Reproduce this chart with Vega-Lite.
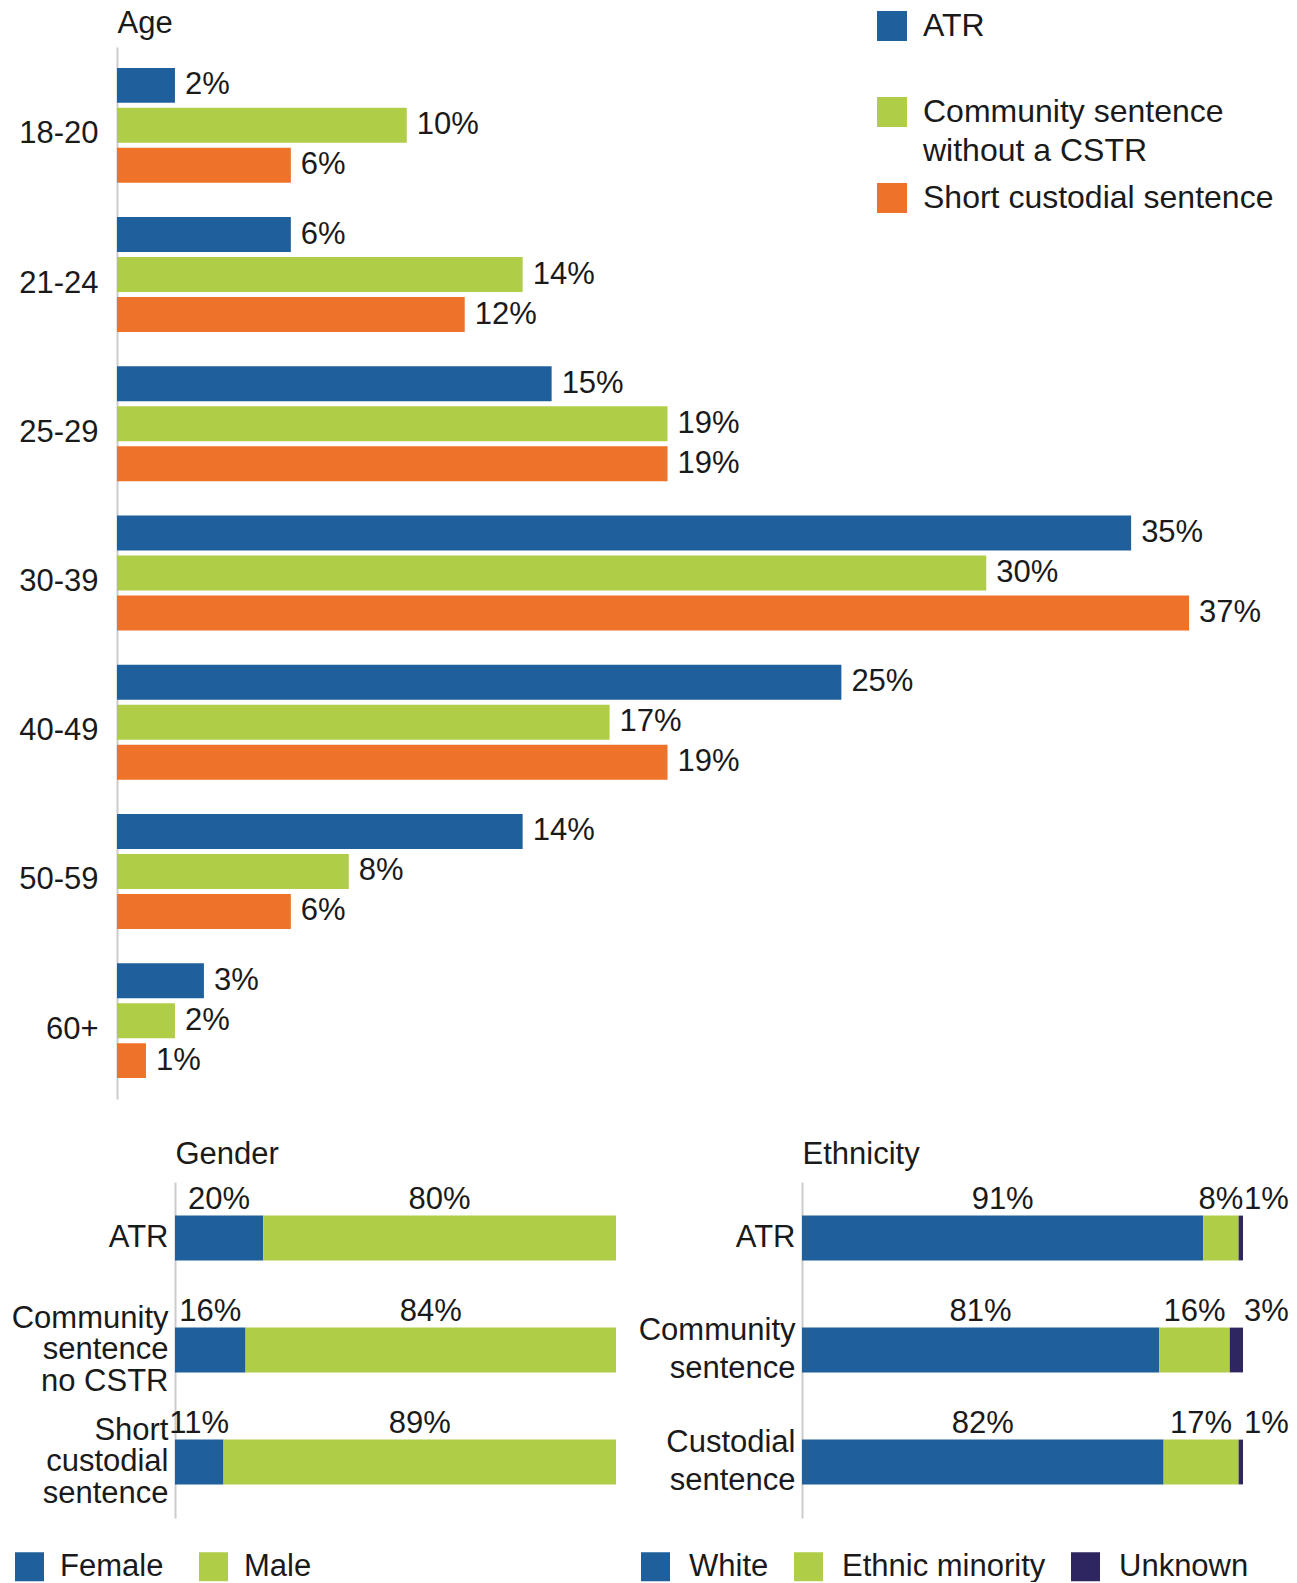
{
  "$schema": "https://vega.github.io/schema/vega-lite/v6.json",
  "background": "white",
  "padding": {"left": 11, "top": 7, "right": 0, "bottom": 0},
  "autosize": {"type": "pad"},
  "config": {
    "view": {"stroke": null},
    "font": "Liberation Sans",
    "axis": {"labelFont": "Liberation Sans", "titleFont": "Liberation Sans", "labelColor": "#1a1a1a", "titleColor": "#1a1a1a", "titleFontWeight": "normal", "domainColor": "#cccccc", "domainWidth": 2, "ticks": false, "tickSize": 0, "grid": false},
    "legend": {"labelFont": "Liberation Sans", "labelColor": "#1a1a1a", "symbolType": "square", "symbolStrokeWidth": 0, "padding": 0, "labelLimit": 800, "symbolOpacity": 1},
    "text": {"font": "Liberation Sans"}
  },
  "resolve": {"scale": {"color": "independent", "x": "independent", "y": "independent"}, "legend": {"color": "independent"}},
  "spacing": 39,
  "vconcat": [
    {
      "width": 1159,
      "height": 1052,
      "data": {"values": [
        {"age": "18-20", "series": "ATR", "value": 0.02},
        {"age": "18-20", "series": "Community sentence without a CSTR", "value": 0.10},
        {"age": "18-20", "series": "Short custodial sentence", "value": 0.06},
        {"age": "21-24", "series": "ATR", "value": 0.06},
        {"age": "21-24", "series": "Community sentence without a CSTR", "value": 0.14},
        {"age": "21-24", "series": "Short custodial sentence", "value": 0.12},
        {"age": "25-29", "series": "ATR", "value": 0.15},
        {"age": "25-29", "series": "Community sentence without a CSTR", "value": 0.19},
        {"age": "25-29", "series": "Short custodial sentence", "value": 0.19},
        {"age": "30-39", "series": "ATR", "value": 0.35},
        {"age": "30-39", "series": "Community sentence without a CSTR", "value": 0.30},
        {"age": "30-39", "series": "Short custodial sentence", "value": 0.37},
        {"age": "40-49", "series": "ATR", "value": 0.25},
        {"age": "40-49", "series": "Community sentence without a CSTR", "value": 0.17},
        {"age": "40-49", "series": "Short custodial sentence", "value": 0.19},
        {"age": "50-59", "series": "ATR", "value": 0.14},
        {"age": "50-59", "series": "Community sentence without a CSTR", "value": 0.08},
        {"age": "50-59", "series": "Short custodial sentence", "value": 0.06},
        {"age": "60+", "series": "ATR", "value": 0.03},
        {"age": "60+", "series": "Community sentence without a CSTR", "value": 0.02},
        {"age": "60+", "series": "Short custodial sentence", "value": 0.01}
      ]},
      "encoding": {
        "y": {"field": "age", "type": "nominal", "sort": ["18-20", "21-24", "25-29", "30-39", "40-49", "50-59", "60+"],
          "scale": {"paddingInner": 0.23, "paddingOuter": 0.14},
          "axis": {"title": "Age", "titleAngle": 0, "titleAlign": "left", "titleBaseline": "alphabetic", "titleX": 0, "titleY": -15, "titleFontSize": 31, "labelFontSize": 31, "labelPadding": 19, "labelOffset": 9, "labelAlign": "right", "labelBaseline": "middle"}},
        "yOffset": {"field": "series", "type": "nominal", "sort": ["ATR", "Community sentence without a CSTR", "Short custodial sentence"], "scale": {"paddingInner": 0.125, "paddingOuter": 0}},
        "x": {"field": "value", "type": "quantitative", "stack": null, "scale": {"domain": [0, 0.4], "nice": false}, "axis": null}
      },
      "layer": [
        {
          "mark": {"type": "bar"},
          "encoding": {
            "color": {"field": "series", "type": "nominal",
              "scale": {"domain": ["ATR", "Community sentence without a CSTR", "Short custodial sentence"], "range": ["#1F5F9B", "#B0CD47", "#EE722A"]},
              "legend": {"title": null, "orient": "none", "legendX": 759, "legendY": -37, "direction": "vertical", "symbolSize": 900, "labelFontSize": 32, "labelOffset": 15, "rowPadding": 15,
                "encode": {"labels": {"update": {"lineHeight": {"value": 39}}}},
                "labelExpr": "datum.label == 'Community sentence without a CSTR' ? ['Community sentence', 'without a CSTR'] : [datum.label, '']"}}
          }
        },
        {
          "mark": {"type": "text", "align": "left", "baseline": "middle", "dx": 10, "fontSize": 31, "color": "#1a1a1a"},
          "encoding": {"text": {"field": "value", "type": "quantitative", "format": ".0%"}}
        }
      ]
    },
    {
      "hconcat": [
        {
          "width": 499,
          "height": 336,
          "data": {"values": [
            {"group": "ATR", "sex": "Female", "value": 0.20},
            {"group": "ATR", "sex": "Male", "value": 0.80},
            {"group": "Community sentence no CSTR", "sex": "Female", "value": 0.16},
            {"group": "Community sentence no CSTR", "sex": "Male", "value": 0.84},
            {"group": "Short custodial sentence", "sex": "Female", "value": 0.11},
            {"group": "Short custodial sentence", "sex": "Male", "value": 0.89}
          ]},
          "transform": [{"stack": "value", "groupby": ["group"], "sort": [{"field": "value", "order": "ascending"}], "as": ["x0", "x1"]}],
          "encoding": {
            "y": {"field": "group", "type": "nominal", "sort": ["ATR", "Community sentence no CSTR", "Short custodial sentence"],
              "scale": {"paddingInner": 0.6, "paddingOuter": 0.3},
              "axis": {"title": "Gender", "offset": -58, "titleAngle": 0, "titleAlign": "left", "titleBaseline": "alphabetic", "titleX": 0, "titleY": -19, "titleFontSize": 31, "labelFontSize": 31, "labelPadding": 7, "labelLineHeight": 31.5,
                "labelOffset": {"condition": {"test": "datum.value == 'ATR'", "value": 0}, "value": -31.5},
                "labelAlign": "right", "labelBaseline": "middle",
                "labelExpr": "datum.value == 'Community sentence no CSTR' ? ['Community', 'sentence', 'no CSTR'] : datum.value == 'Short custodial sentence' ? ['Short', 'custodial', 'sentence'] : datum.value"}}
          },
          "layer": [
            {
              "mark": {"type": "bar"},
              "encoding": {
                "x": {"field": "x0", "type": "quantitative", "scale": {"domain": [-0.1315, 1], "nice": false}, "axis": null},
                "x2": {"field": "x1"},
                "color": {"field": "sex", "type": "nominal",
                  "scale": {"domain": ["Female", "Male"], "range": ["#1F5F9B", "#B0CD47"]},
                  "legend": {"title": null, "orient": "none", "legendX": -103, "legendY": 369, "direction": "horizontal", "symbolSize": 841, "labelFontSize": 31, "labelOffset": 15, "columnPadding": 34}}
              }
            },
            {
              "transform": [{"fold": ["x0", "x1"], "as": ["edge", "pos"]}],
              "mark": {"type": "text", "align": "center", "baseline": "alphabetic", "dy": -29, "fontSize": 31, "color": "#1a1a1a"},
              "encoding": {
                "x": {"aggregate": "mean", "field": "pos", "type": "quantitative", "scale": {"domain": [-0.1315, 1], "nice": false}, "axis": null},
                "detail": {"field": "sex"},
                "text": {"field": "value", "type": "quantitative", "format": ".0%"}
              }
            }
          ]
        },
        {
          "width": 441,
          "height": 336,
          "data": {"values": [
            {"group": "ATR", "ethnicity": "White", "value": 0.91},
            {"group": "ATR", "ethnicity": "Ethnic minority", "value": 0.08},
            {"group": "ATR", "ethnicity": "Unknown", "value": 0.01},
            {"group": "Community sentence", "ethnicity": "White", "value": 0.81},
            {"group": "Community sentence", "ethnicity": "Ethnic minority", "value": 0.16},
            {"group": "Community sentence", "ethnicity": "Unknown", "value": 0.03},
            {"group": "Custodial sentence", "ethnicity": "White", "value": 0.82},
            {"group": "Custodial sentence", "ethnicity": "Ethnic minority", "value": 0.17},
            {"group": "Custodial sentence", "ethnicity": "Unknown", "value": 0.01}
          ]},
          "transform": [{"stack": "value", "groupby": ["group"], "sort": [{"field": "value", "order": "descending"}], "as": ["x0", "x1"]}],
          "encoding": {
            "y": {"field": "group", "type": "nominal", "sort": ["ATR", "Community sentence", "Custodial sentence"],
              "scale": {"paddingInner": 0.6, "paddingOuter": 0.3},
              "axis": {"title": "Ethnicity", "titleAngle": 0, "titleAlign": "left", "titleBaseline": "alphabetic", "titleX": 0, "titleY": -19, "titleFontSize": 31, "labelFontSize": 31, "labelPadding": 7, "labelLineHeight": 38,
                "labelOffset": {"condition": {"test": "datum.value == 'ATR'", "value": 0}, "value": -19},
                "labelAlign": "right", "labelBaseline": "middle",
                "labelExpr": "split(datum.value, ' ')"}}
          },
          "layer": [
            {
              "mark": {"type": "bar"},
              "encoding": {
                "x": {"field": "x0", "type": "quantitative", "scale": {"domain": [0, 1], "nice": false}, "axis": null},
                "x2": {"field": "x1"},
                "color": {"field": "ethnicity", "type": "nominal",
                  "scale": {"domain": ["White", "Ethnic minority", "Unknown"], "range": ["#1F5F9B", "#B0CD47", "#2E2660"]},
                  "legend": {"title": null, "orient": "none", "legendX": -162, "legendY": 369, "direction": "horizontal", "symbolSize": 841, "labelFontSize": 31, "labelOffset": 18, "columnPadding": 24}}
              }
            },
            {
              "transform": [{"filter": "datum.ethnicity != 'Unknown'"}, {"fold": ["x0", "x1"], "as": ["edge", "pos"]}],
              "mark": {"type": "text", "align": "center", "baseline": "alphabetic", "dy": -29, "fontSize": 31, "color": "#1a1a1a"},
              "encoding": {
                "x": {"aggregate": "mean", "field": "pos", "type": "quantitative", "scale": {"domain": [0, 1], "nice": false}, "axis": null},
                "detail": {"field": "ethnicity"},
                "text": {"field": "value", "type": "quantitative", "format": ".0%"}
              }
            },
            {
              "transform": [{"filter": "datum.ethnicity == 'Unknown'"}],
              "mark": {"type": "text", "align": "left", "baseline": "alphabetic", "dy": -29, "dx": 1, "fontSize": 31, "color": "#1a1a1a"},
              "encoding": {
                "x": {"field": "x1", "type": "quantitative", "scale": {"domain": [0, 1], "nice": false}, "axis": null},
                "text": {"field": "value", "type": "quantitative", "format": ".0%"}
              }
            }
          ]
        }
      ],
      "spacing": 22,
      "resolve": {"scale": {"color": "independent"}, "legend": {"color": "independent"}}
    }
  ]
}
